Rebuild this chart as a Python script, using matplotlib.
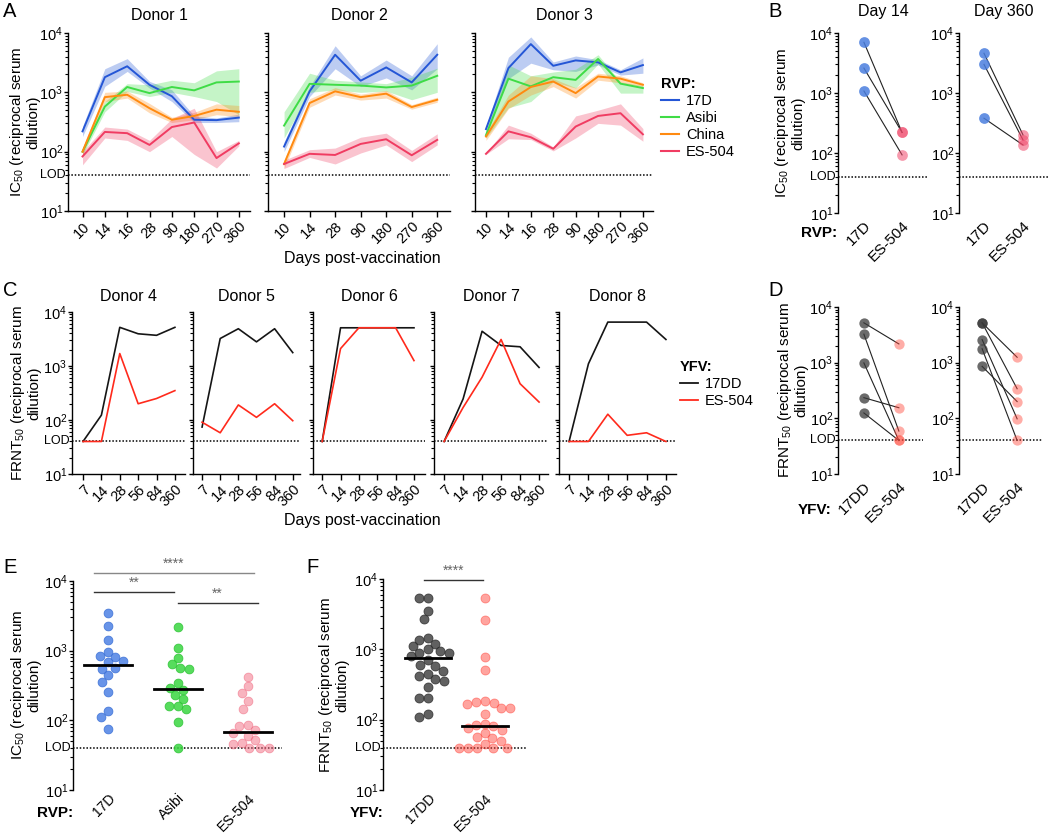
import numpy as np
import matplotlib
matplotlib.use("Agg")
import matplotlib.pyplot as plt
from matplotlib.ticker import FixedLocator, LogLocator, NullFormatter
from matplotlib.lines import Line2D

plt.rcParams["font.family"] = ["Liberation Sans", "DejaVu Sans"]
plt.rcParams["mathtext.fontset"] = "custom"
plt.rcParams["mathtext.rm"] = "Liberation Sans"
plt.rcParams["mathtext.it"] = "Liberation Sans:italic"
plt.rcParams["mathtext.bf"] = "Liberation Sans:bold"
plt.rcParams["axes.linewidth"] = 1.0

LOD = 40

# ---- Panel A: IC50 over time (line + range band) ----
days_a13 = ["10", "14", "16", "28", "90", "180", "270", "360"]
days_a2 = ["10", "14", "28", "90", "180", "270", "360"]

d1_17d = [220, 1800, 2750, 1340, 860, 345, 340, 375]
d1_17d_lo = [180, 1260, 2250, 1180, 700, 310, 310, 320]
d1_17d_hi = [265, 2500, 3700, 1530, 1100, 400, 370, 430]
d1_asibi = [100, 575, 1230, 970, 1230, 1080, 1470, 1520]
d1_asibi_lo = [88, 470, 1035, 850, 1000, 850, 700, 420]
d1_asibi_hi = [115, 700, 1400, 1340, 1600, 1450, 2300, 2500]
d1_china = [100, 830, 910, 540, 345, 400, 510, 470]
d1_china_lo = [88, 700, 800, 450, 310, 345, 420, 390]
d1_china_hi = [115, 1000, 1050, 650, 380, 460, 640, 600]
d1_es = [83, 215, 205, 130, 260, 310, 78, 138]
d1_es_lo = [60, 170, 155, 100, 180, 90, 53, 125]
d1_es_hi = [100, 260, 240, 155, 360, 540, 100, 155]

d2_17d = [122, 1040, 4300, 1570, 2630, 1470, 4300]
d2_17d_lo = [100, 850, 2500, 1250, 1750, 1100, 2500]
d2_17d_hi = [145, 1250, 6100, 1900, 3500, 1900, 6600]
d2_asibi = [275, 1390, 1340, 1300, 1210, 1300, 1900]
d2_asibi_lo = [170, 1000, 1100, 1000, 1050, 750, 1000]
d2_asibi_hi = [470, 2100, 1600, 1500, 1400, 1800, 2550]
d2_china = [62, 660, 1040, 830, 950, 565, 750]
d2_china_lo = [52, 560, 900, 740, 800, 520, 680]
d2_china_hi = [72, 780, 1200, 930, 1080, 620, 830]
d2_es = [62, 92, 88, 135, 162, 87, 158]
d2_es_lo = [52, 80, 62, 95, 130, 68, 130]
d2_es_hi = [72, 108, 115, 175, 205, 105, 200]

d3_17d = [240, 2560, 6500, 2800, 3450, 3200, 2170, 2880]
d3_17d_lo = [215, 1700, 3100, 2400, 2250, 2900, 1950, 2100]
d3_17d_hi = [265, 3900, 8600, 3250, 4100, 3550, 2400, 3800]
d3_asibi = [190, 1700, 1260, 1800, 1620, 3650, 1400, 1180]
d3_asibi_lo = [170, 550, 700, 1500, 1180, 3000, 970, 970]
d3_asibi_hi = [215, 2900, 1900, 2200, 2450, 4300, 1500, 1300]
d3_china = [180, 700, 1230, 1520, 970, 1850, 1700, 1340]
d3_china_lo = [155, 530, 900, 1250, 800, 1600, 1450, 1250]
d3_china_hi = [205, 900, 1900, 1700, 1200, 2100, 1900, 1450]
d3_es = [92, 220, 175, 112, 265, 400, 445, 196]
d3_es_lo = [90, 165, 160, 103, 170, 300, 280, 150]
d3_es_hi = [94, 280, 205, 120, 400, 500, 640, 245]

rvp_names = ["17D", "Asibi", "China", "ES-504"]
rvp_colors = ["#2456d6", "#3fdc46", "#ff8a10", "#f03c62"]

# ---- Panel B: paired 17D vs ES-504 ----
b14_17d = [7000, 2600, 1080]
b14_es = [220, 220, 93]
b360_17d = [4600, 3000, 380]
b360_es = [200, 165, 136]

# ---- Panel C: FRNT50 over time ----
days_c = ["7", "14", "28", "56", "84", "360"]
d4_17dd = [40, 123, 5200, 3950, 3700, 5200]
d4_es = [40, 40, 1700, 200, 250, 350]
d5_17dd = [74, 3230, 4900, 2800, 4900, 1770]
d5_es = [91, 58, 190, 112, 200, 97]
d6_17dd = [40, 5100, 5100, 5100, 5100, 5100]
d6_es = [40, 2100, 5100, 5100, 5100, 1260]
d7_17dd = [40, 245, 4400, 2400, 2270, 940]
d7_es = [40, 170, 620, 3100, 470, 215]
d8_17dd = [40, 1100, 6500, 6500, 6500, 3100]
d8_es = [40, 40, 128, 52, 58, 40]

# ---- Panel D: paired 17DD vs ES-504 ----
dl_17dd = [5200, 3250, 990, 235, 125]
dl_es = [2170, 59, 40, 155, 40]
dr_17dd = [5200, 5200, 2600, 1780, 860]
dr_es = [1250, 340, 98, 40, 200]

# ---- Panel E / F: pooled ----
e_17d = [3510, 2240, 1410, 960, 830, 810, 705, 690, 570, 550, 445, 355, 257, 136, 112, 76]
e_asibi = [2190, 1100, 790, 635, 560, 550, 345, 295, 270, 229, 200, 160, 160, 147, 95, 40]
e_es = [420, 310, 250, 190, 147, 87, 82, 72, 66, 60, 52, 48, 46, 40, 40, 40]
f_17dd = [5300, 5300, 3500, 2700, 1450, 1350, 1200, 1100, 1000, 950, 900, 880, 800,
          700, 600, 580, 500, 450, 420, 380, 360, 290, 200, 200, 120, 110]
f_es = [5300, 2650, 780, 510, 185, 180, 175, 165, 145, 145, 120, 88, 85, 80, 75,
        72, 65, 57, 55, 50, 45, 40, 40, 40, 40, 40]

W, H = 1050, 834
fig = plt.figure(figsize=(W / 100, H / 100), dpi=100)

YLAB = dict(rotation=90, ha="center", va="center", fontsize=11, linespacing=1.0)
LEG = dict(loc="upper left", frameon=False, alignment="left", fontsize=10.5,
           handlelength=1.2, handletextpad=0.5, labelspacing=0.2, borderpad=0,
           borderaxespad=0, title_fontproperties={"weight": "bold", "size": 10.5})


def add_ax(l, t, r, b):
    return fig.add_axes([l / W, 1 - b / H, (r - l) / W, (b - t) / H])


def fig_text(x, y, s, **kw):
    return fig.text(x / W, 1 - y / H, s, **kw)


def style_log(ax, labels=True, lod_label=True, bottom=True):
    ax.set_yscale("log")
    ax.set_ylim(10, 1e4)
    ax.yaxis.set_major_locator(FixedLocator([10, 100, 1000, 10000]))
    ax.yaxis.set_minor_locator(LogLocator(base=10, subs=np.arange(2, 10)))
    ax.yaxis.set_minor_formatter(NullFormatter())
    if labels:
        ax.set_yticklabels(["$10^{1}$", "$10^{2}$", "$10^{3}$", "$10^{4}$"])
    else:
        ax.set_yticklabels([])
    ax.spines[["top", "right"]].set_visible(False)
    ax.spines["bottom"].set_visible(bottom)
    ax.tick_params(axis="y", which="major", length=3, width=1, labelsize=10.5, pad=0.5)
    ax.tick_params(axis="y", which="minor", length=2, width=0.8)
    ax.axhline(LOD, color="k", ls=(0, (1, 1.2)), lw=1.1, zorder=1)
    if lod_label:
        ax.annotate("LOD", (0, LOD), xycoords=("axes fraction", "data"),
                    xytext=(-1.5, 0), textcoords="offset points",
                    ha="right", va="center", fontsize=9)


def style_x(ax, labels, ticks=True, pad=3, size=11):
    ax.set_xticks(range(len(labels)))
    ax.set_xticklabels(labels, rotation=45, ha="right", rotation_mode="anchor")
    ax.tick_params(axis="x", length=4 if ticks else 0, width=1, pad=pad, labelsize=size)


def swarm_x(ax, vals, center, diam):
    vals = np.asarray(vals, float)
    pts = ax.transData.transform(np.column_stack([np.full(len(vals), center), vals]))
    ypx = pts[:, 1]
    order = np.argsort(-vals, kind="stable")
    offs = np.zeros(len(vals))
    placed = []
    for i in order:
        cands = [0.0]
        for px, py in placed:
            dy = abs(py - ypx[i])
            if dy < diam:
                dx = np.sqrt(diam ** 2 - dy ** 2)
                cands += [px + dx, px - dx]
        cands.sort(key=lambda c: (round(abs(c), 3), c))
        for c in cands:
            if all((c - px) ** 2 + (ypx[i] - py) ** 2 >= diam ** 2 - 1e-6 for px, py in placed):
                offs[i] = c
                break
        placed.append((offs[i], ypx[i]))
    xs = ax.transData.inverted().transform(np.column_stack([pts[:, 0] + offs, ypx]))[:, 0]
    return xs


# ================= Panel A =================
a_layout = [(68, 250, -0.65, 7.5), (268, 450, -0.63, 6.5), (475, 653, -0.49, 7.45)]
a_donors = [
    ("Donor 1", days_a13, [(d1_17d, d1_17d_lo, d1_17d_hi), (d1_asibi, d1_asibi_lo, d1_asibi_hi),
                           (d1_china, d1_china_lo, d1_china_hi), (d1_es, d1_es_lo, d1_es_hi)]),
    ("Donor 2", days_a2, [(d2_17d, d2_17d_lo, d2_17d_hi), (d2_asibi, d2_asibi_lo, d2_asibi_hi),
                          (d2_china, d2_china_lo, d2_china_hi), (d2_es, d2_es_lo, d2_es_hi)]),
    ("Donor 3", days_a13, [(d3_17d, d3_17d_lo, d3_17d_hi), (d3_asibi, d3_asibi_lo, d3_asibi_hi),
                           (d3_china, d3_china_lo, d3_china_hi), (d3_es, d3_es_lo, d3_es_hi)]),
]
for k, ((l, r, x0, x1), (title, days, series)) in enumerate(zip(a_layout, a_donors)):
    ax = add_ax(l, 33, r, 211)
    style_log(ax, labels=(k == 0), lod_label=(k == 0))
    x = np.arange(len(days))
    for (mid, lo, hi), c in zip(series, rvp_colors):
        ax.fill_between(x, lo, hi, color=c, alpha=0.3, lw=0, zorder=2)
        ax.plot(x, mid, color=c, lw=1.4, zorder=3)
    ax.set_xlim(x0, x1)
    style_x(ax, days, pad=2, size=10.5)
    ax.set_title(title, fontsize=11.5, pad=9)

fig_text(24, 122, "IC$_{50}$ (reciprocal serum\ndilution)", **YLAB)
fig_text(362, 259, "Days post-vaccination", ha="center", va="center", fontsize=11.5)
fig.legend([Line2D([], [], color=c, lw=1.5) for c in rvp_colors], rvp_names,
           title="RVP:", bbox_to_anchor=(661 / W, 1 - 77 / H), **LEG)

# ================= Panel B =================
b_layout = [(838, 928, -0.68, 1.68, "Day 14", b14_17d, b14_es),
            (959, 1048, -0.64, 1.64, "Day 360", b360_17d, b360_es)]
for k, (l, r, x0, x1, title, v17, ves) in enumerate(b_layout):
    ax = add_ax(l, 33, r, 213)
    style_log(ax, lod_label=(k == 0), bottom=False)
    for a, b in zip(v17, ves):
        ax.plot([0, 1], [a, b], color="#222222", lw=0.8, zorder=2)
    ax.scatter(np.zeros(len(v17)), v17, s=60, color="#4a7ede", alpha=0.85, lw=0, zorder=3, clip_on=False)
    ax.scatter(np.ones(len(ves)), ves, s=60, color="#f0486a", alpha=0.55, lw=0, zorder=3, clip_on=False)
    ax.set_xlim(x0, x1)
    style_x(ax, ["17D", "ES-504"], ticks=False, pad=4, size=11)
    ax.set_title(title, fontsize=11.5, pad=12)
fig_text(789, 123, "IC$_{50}$ (reciprocal serum\ndilution)", **YLAB)
fig_text(837, 233, "RVP:", ha="right", va="center", fontsize=11, weight="bold")

# ================= Panel C =================
c_layout = [(72, 185, -0.6, 5.55), (193, 300, -0.5, 5.4), (313, 425, -0.5, 5.6),
            (434, 548, -0.53, 5.47), (559, 676, -0.52, 5.52)]
c_donors = [("Donor 4", d4_17dd, d4_es), ("Donor 5", d5_17dd, d5_es), ("Donor 6", d6_17dd, d6_es),
            ("Donor 7", d7_17dd, d7_es), ("Donor 8", d8_17dd, d8_es)]
for k, ((l, r, x0, x1), (title, v17, ves)) in enumerate(zip(c_layout, c_donors)):
    ax = add_ax(l, 312, r, 474)
    style_log(ax, labels=(k == 0), lod_label=(k == 0))
    x = np.arange(len(days_c))
    ax.plot(x, v17, color="#151515", lw=1.2, zorder=3)
    ax.plot(x, ves, color="#ff2a1c", lw=1.2, zorder=3)
    ax.set_xlim(x0, x1)
    style_x(ax, days_c, pad=2, size=10.5)
    ax.set_title(title, fontsize=11.5, pad=8)
fig_text(25, 393, "FRNT$_{50}$ (reciprocal serum\ndilution)", **YLAB)
fig_text(362, 520, "Days post-vaccination", ha="center", va="center", fontsize=11.5)
fig.legend([Line2D([], [], color="#151515", lw=1.3), Line2D([], [], color="#ff2a1c", lw=1.3)],
           ["17DD", "ES-504"], title="YFV:", bbox_to_anchor=(680 / W, 1 - 360 / H), **LEG)

# ================= Panel D =================
d_layout = [(838, 923, -0.74, 1.69, dl_17dd, dl_es), (959, 1042, -0.66, 1.71, dr_17dd, dr_es)]
for k, (l, r, x0, x1, v17, ves) in enumerate(d_layout):
    ax = add_ax(l, 307, r, 474)
    style_log(ax, lod_label=(k == 0), bottom=False)
    for a, b in zip(v17, ves):
        ax.plot([0, 1], [a, b], color="#222222", lw=0.8, zorder=2)
    ax.scatter(np.zeros(len(v17)), v17, s=55, color="#3a3a3a", alpha=0.75, lw=0, zorder=3, clip_on=False)
    ax.scatter(np.ones(len(ves)), ves, s=55, color="#ff4a3c", alpha=0.45, lw=0, zorder=3, clip_on=False)
    ax.set_xlim(x0, x1)
    style_x(ax, ["17DD", "ES-504"], ticks=False, pad=4, size=11)
fig_text(792, 390, "FRNT$_{50}$ (reciprocal serum\ndilution)", **YLAB)
fig_text(831, 510, "YFV:", ha="right", va="center", fontsize=11, weight="bold")

# ================= Panel E =================
ax = add_ax(73, 581, 282, 790)
style_log(ax, bottom=False)
ax.set_xlim(-0.5, 2.49)
e_groups = [(e_17d, "#4d82e4", "#3a6fd6", 0.85), (e_asibi, "#3ad640", "#2cc234", 0.85),
            (e_es, "#f26a80", "#ee5a72", 0.5)]
for g, (vals, fc, ec, al) in enumerate(e_groups):
    xs = swarm_x(ax, vals, g, 9.0)
    ax.scatter(xs, vals, s=40, color=fc, edgecolors=ec, linewidths=0.6, alpha=al, zorder=3, clip_on=False)
    med = np.median(vals)
    ax.plot([g - 0.34, g + 0.34], [med, med], color="k", lw=2, zorder=4)
style_x(ax, ["17D", "Asibi", "ES-504"], ticks=False, pad=1, size=10)
sig_e = [(-0.2, 2.09, 13000, "****", "#888888"), (-0.2, 0.95, 6950, "**", "#333333"),
         (1.0, 2.14, 4800, "**", "#333333")]
for xa, xb, yv, txt, col in sig_e:
    ax.plot([xa, xb], [yv, yv], color=col, lw=1, clip_on=False)
    ax.text((xa + xb) / 2, yv * 1.07, txt, ha="center", va="bottom", fontsize=10, color="#666666")
fig_text(25, 685, "IC$_{50}$ (reciprocal serum\ndilution)", **YLAB)
fig_text(73, 813, "RVP:", ha="right", va="center", fontsize=11, weight="bold")

# ================= Panel F =================
ax = add_ax(383, 579, 527, 790)
style_log(ax, bottom=False)
ax.set_xlim(-0.79, 1.74)
f_groups = [(f_17dd, "#3a3a3a", "#2a2a2a", 0.8), (f_es, "#ff4a40", "#ff3a30", 0.5)]
for g, (vals, fc, ec, al) in enumerate(f_groups):
    xs = swarm_x(ax, vals, g, 9.0)
    ax.scatter(xs, vals, s=42, color=fc, edgecolors=ec, linewidths=0.6, alpha=al, zorder=3, clip_on=False)
    med = np.median(vals)
    ax.plot([g - 0.4, g + 0.4], [med, med], color="k", lw=2, zorder=4)
style_x(ax, ["17DD", "ES-504"], ticks=False, pad=1, size=10)
ax.plot([-0.07, 0.96], [9800, 9800], color="#333333", lw=1, clip_on=False)
ax.text(0.45, 9800 * 1.07, "****", ha="center", va="bottom", fontsize=10, color="#666666")
fig_text(333, 685, "FRNT$_{50}$ (reciprocal serum\ndilution)", **YLAB)
fig_text(383, 813, "YFV:", ha="right", va="center", fontsize=11, weight="bold")

# panel letters
for letter, px, py in [("A", 3, 2), ("B", 768, 2), ("C", 3, 281), ("D", 768, 281),
                       ("E", 3, 558), ("F", 306, 558)]:
    fig_text(px, py, letter, ha="left", va="top", fontsize=14.5)

fig.savefig("out.png", dpi=100)
